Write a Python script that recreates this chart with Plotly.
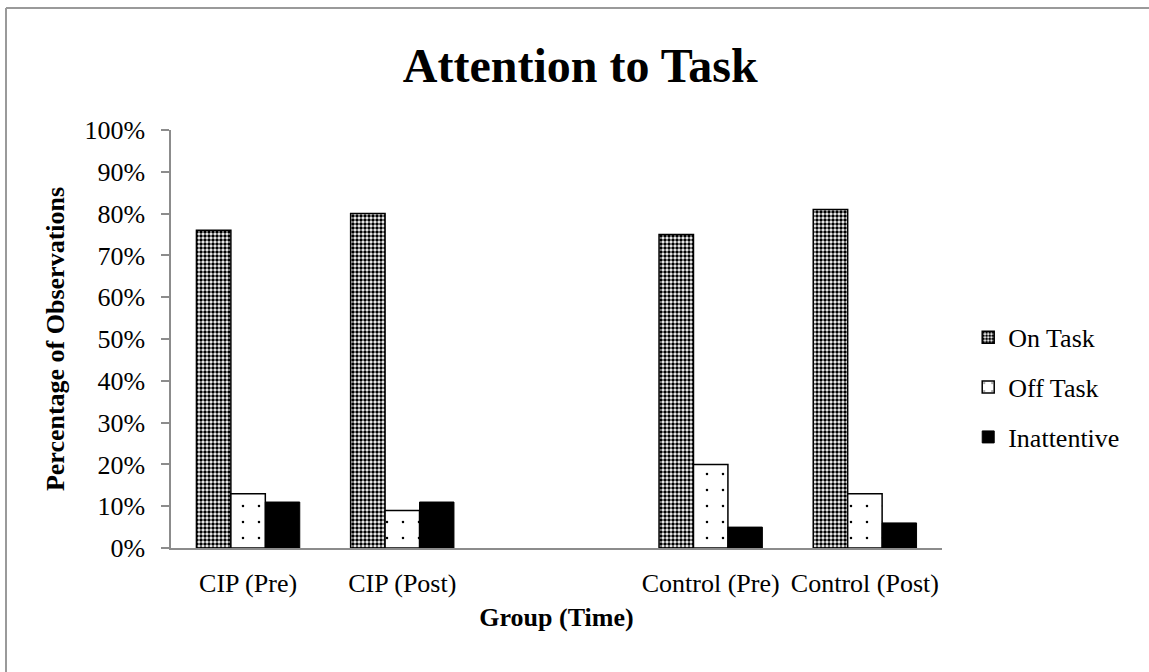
import plotly.graph_objects as go

categories = ["CIP (Pre)", "CIP (Post)", " ", "Control (Pre)", "Control (Post)"]
groups = ["CIP (Pre)", "CIP (Post)", "Control (Pre)", "Control (Post)"]
on_task = [76, 80, 75, 81]
off_task = [13, 9, 20, 13]
inattentive = [11, 11, 5, 6]
y_ticks = [0, 10, 20, 30, 40, 50, 60, 70, 80, 90, 100]
y_ticktext = [f"{v}%" for v in y_ticks]

FONT = "Liberation Serif"
W, H = 1149, 672
ML, MR, MT, MB = 171, 207, 130, 124

fig = go.Figure()
fig.add_trace(go.Bar(
    name="On Task", x=groups, y=on_task, legendgroup="a",
    marker=dict(color="white", line=dict(color="black", width=1.5),
                pattern=dict(shape=".", size=4, solidity=0.6,
                             fgcolor="black", bgcolor="white", fillmode="replace")),
))
fig.add_trace(go.Bar(
    name="Off Task", x=groups, y=off_task, legendgroup="b",
    marker=dict(color="white", line=dict(color="black", width=1.5),
                pattern=dict(shape=".", size=16, solidity=0.02,
                             fgcolor="black", bgcolor="white", fillmode="replace")),
))
fig.add_trace(go.Bar(
    name="Inattentive", x=groups, y=inattentive, legendgroup="c",
    marker=dict(color="black", line=dict(color="black", width=1)),
))

pw = W - ML - MR
ph = H - MT - MB
def px(x):
    return (x - ML) / pw
def py(y):
    return (H - MB - y) / ph

# top and left outer border lines
fig.add_shape(type="line", xref="paper", yref="paper",
              x0=px(6), x1=px(1160), y0=py(8), y1=py(8),
              line=dict(color="#9a9a9a", width=2))
fig.add_shape(type="line", xref="paper", yref="paper",
              x0=px(6), x1=px(6), y0=py(8), y1=py(690),
              line=dict(color="#9a9a9a", width=2))

fig.update_layout(
    width=W, height=H,
    margin=dict(l=ML, r=MR, t=MT, b=MB),
    plot_bgcolor="white", paper_bgcolor="white",
    font=dict(family=FONT, color="black", size=26),
    title=dict(text="<b>Attention to Task</b>", x=0.505, xanchor="center",
               y=1 - 65 / H, yanchor="middle",
               font=dict(family=FONT, size=48, color="black")),
    barmode="group", bargap=0.33, bargroupgap=0,
    showlegend=True,
    legend=dict(x=1.034, xanchor="left", y=0.56, yanchor="top",
                font=dict(family=FONT, size=26), tracegroupgap=13,
                itemwidth=30, bgcolor="rgba(0,0,0,0)"),
    xaxis=dict(type="category", categoryorder="array", categoryarray=categories,
               range=[-0.5, 4.5], showline=True, linecolor="#8c8c8c", linewidth=1.5,
               ticks="", showgrid=False, ticklabelstandoff=11,
               tickfont=dict(family=FONT, size=26),
               title=dict(text="<b>Group (Time)</b>", font=dict(family=FONT, size=26),
                          standoff=11)),
    yaxis=dict(range=[0, 100], tickvals=y_ticks, ticktext=y_ticktext,
               showline=True, linecolor="#8c8c8c", linewidth=1.5,
               ticks="outside", ticklen=8, tickcolor="#8c8c8c", tickwidth=1.5,
               showgrid=False, zeroline=False, ticklabelstandoff=11,
               tickfont=dict(family=FONT, size=26),
               title=dict(text="<b>Percentage of Observations</b>",
                          font=dict(family=FONT, size=26), standoff=12)),
)

fig.write_html("out.html", config={"displayModeBar": False},
               post_script="document.body.style.margin='0';document.body.style.overflow='hidden';")
